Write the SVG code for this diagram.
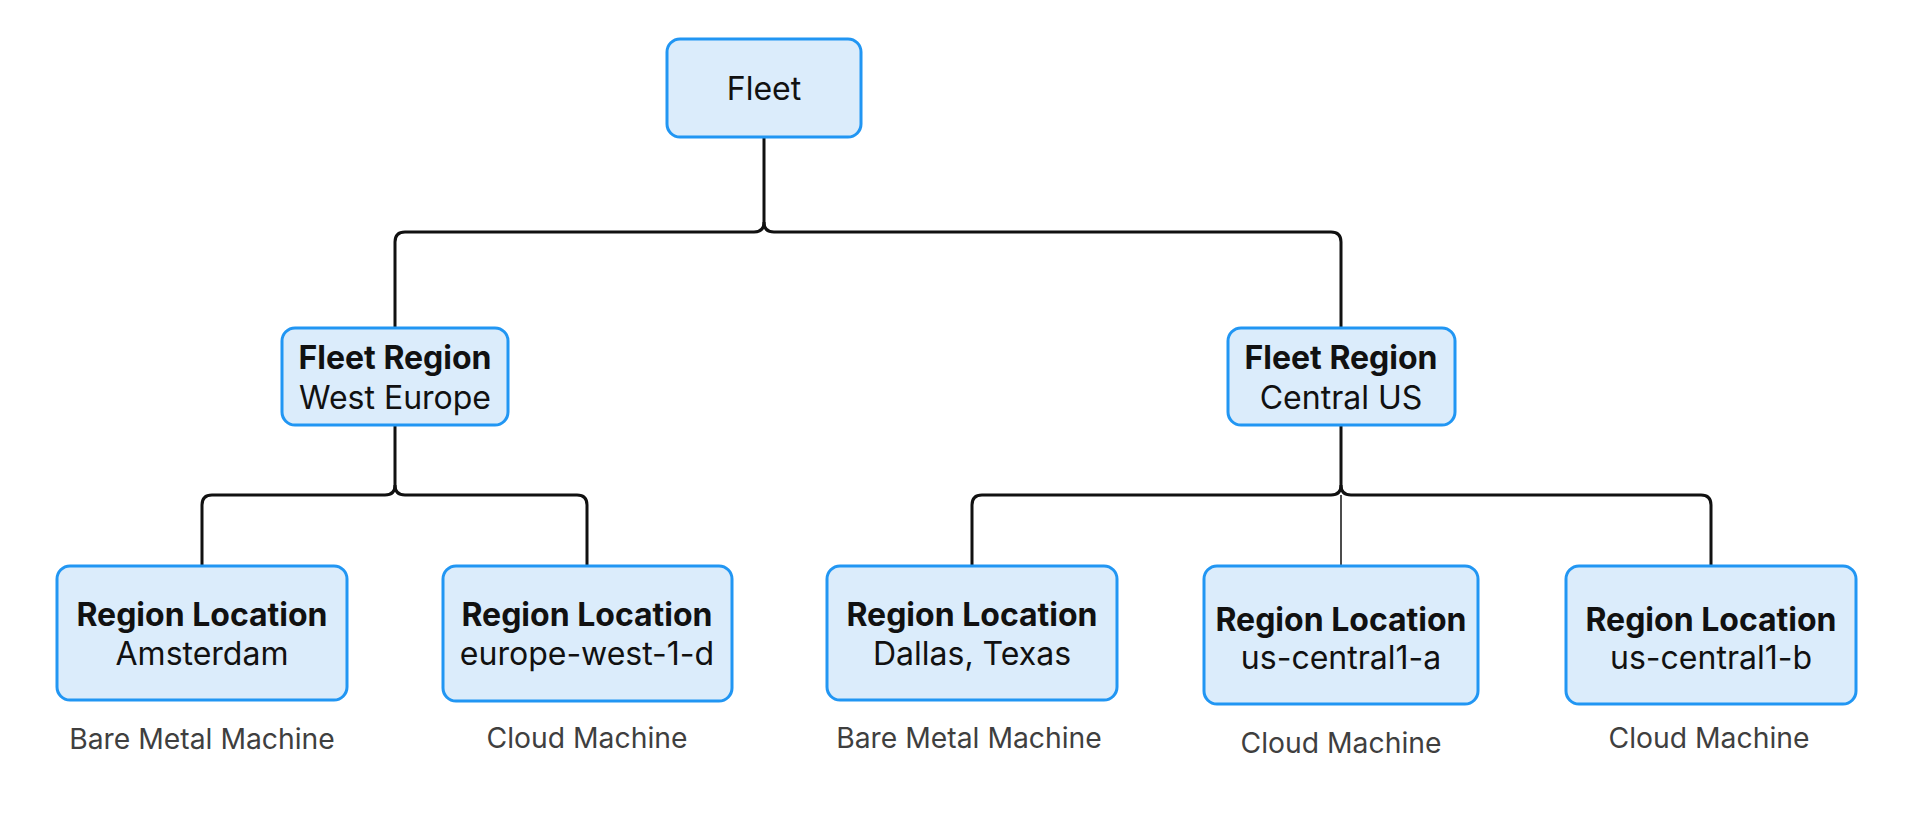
<svg xmlns="http://www.w3.org/2000/svg" width="1920" height="833" viewBox="0 0 1920 833">
<style>
.box{fill:#DBECFB;stroke:#2196F3;stroke-width:3}
.t{font-family:Inter,"Liberation Sans",sans-serif;font-size:32px;fill:#111;text-anchor:middle}
.b{font-weight:700}
.cap{font-family:Inter,"Liberation Sans",sans-serif;font-size:28.3px;fill:#3f3f3f;text-anchor:middle}
.ln{fill:none;stroke:#111;stroke-width:3}
</style>
<rect width="1920" height="833" fill="#fff"/>
<g id="connectors">
<path class="ln" d="M764,137 V222 Q764,232 754,232 H405 Q395,232 395,242 V328"/>
<path class="ln" d="M764,222 Q764,232 774,232 H1331 Q1341,232 1341,242 V328"/>
<path class="ln" d="M395,425 V485 Q395,495 385,495 H212 Q202,495 202,505 V566"/>
<path class="ln" d="M395,485 Q395,495 405,495 H577 Q587,495 587,505 V566"/>
<path class="ln" d="M1341,425 V485 Q1341,495 1331,495 H982 Q972,495 972,505 V566"/>
<path class="ln" d="M1341,485 Q1341,495 1351,495 H1701 Q1711,495 1711,505 V566"/>
<path class="ln" style="stroke-width:1.5" d="M1341,495 V566"/>
</g>
<g id="fleet">
<rect class="box" x="667" y="39" width="194" height="98" rx="13"/>
<text class="t" x="764" y="99.5">Fleet</text>
</g>
<g id="region-west-europe">
<rect class="box" x="282" y="328" width="226" height="97" rx="13"/>
<text class="t b" x="395" y="369">Fleet Region</text>
<text class="t" x="395" y="408.5">West Europe</text>
</g>
<g id="region-central-us">
<rect class="box" x="1228" y="328" width="227" height="97" rx="13"/>
<text class="t b" x="1341" y="369">Fleet Region</text>
<text class="t" x="1341" y="408.5">Central US</text>
</g>
<g id="loc-amsterdam">
<rect class="box" x="57" y="566" width="290" height="134" rx="13"/>
<text class="t b" x="202" y="625.5">Region Location</text>
<text class="t" x="202" y="665">Amsterdam</text>
<text class="cap" x="202" y="749">Bare Metal Machine</text>
</g>
<g id="loc-europe-west-1-d">
<rect class="box" x="443" y="566" width="289" height="135" rx="13"/>
<text class="t b" x="587" y="625.5">Region Location</text>
<text class="t" x="587" y="664.5">europe-west-1-d</text>
<text class="cap" x="587" y="748">Cloud Machine</text>
</g>
<g id="loc-dallas">
<rect class="box" x="827" y="566" width="290" height="134" rx="13"/>
<text class="t b" x="972" y="625.5">Region Location</text>
<text class="t" x="972" y="664.5">Dallas, Texas</text>
<text class="cap" x="969" y="748">Bare Metal Machine</text>
</g>
<g id="loc-us-central1-a">
<rect class="box" x="1204" y="566" width="274" height="138" rx="13"/>
<text class="t b" x="1341" y="630.5">Region Location</text>
<text class="t" x="1341" y="668.5">us-central1-a</text>
<text class="cap" x="1341" y="753">Cloud Machine</text>
</g>
<g id="loc-us-central1-b">
<rect class="box" x="1566" y="566" width="290" height="138" rx="13"/>
<text class="t b" x="1711" y="630.5">Region Location</text>
<text class="t" x="1711" y="668.5">us-central1-b</text>
<text class="cap" x="1709" y="748">Cloud Machine</text>
</g>
</svg>
